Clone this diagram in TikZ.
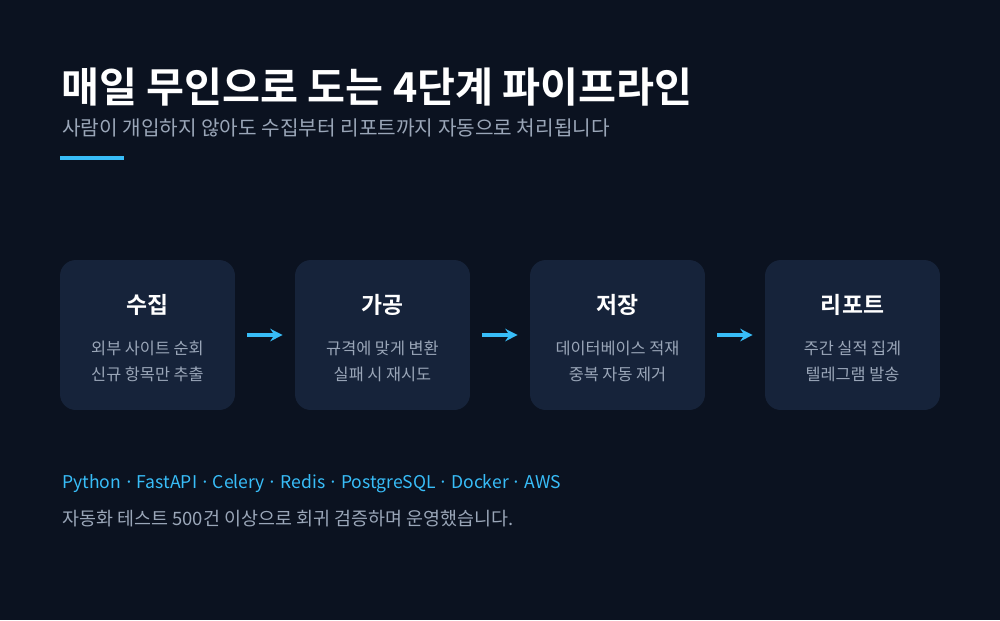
\documentclass[tikz,border=0pt]{standalone}
\usepackage{fontspec}
\setmainfont{Noto Sans CJK KR}[BoldFont={Noto Sans CJK KR Bold}]
\usetikzlibrary{positioning,arrows.meta}
\definecolor{bgdark}{HTML}{0B1220}
\definecolor{boxfill}{HTML}{16233A}
\definecolor{accent}{HTML}{38BDF8}
\definecolor{subgray}{HTML}{9AA6B8}
\tikzset{>={Stealth[length=7pt,width=7pt]}}
\begin{document}
\begin{tikzpicture}[x=0.02cm,y=-0.02cm,
  stage/.style={fill=boxfill,rounded corners=9pt,minimum width=3.5cm,minimum height=3cm,inner sep=0pt},
  head/.style={text=white,font=\bfseries\fontsize{13}{15}\selectfont},
  desc/.style={text=subgray,font=\fontsize{9.3}{14.5}\selectfont,align=center},
  flow/.style={->,accent,line width=1.8pt}]
\fill[bgdark] (0,0) rectangle (1000,620);
\node[anchor=west,text=white,font=\bfseries\fontsize{23.5}{27}\selectfont] (title) at (55,87) {매일 무인으로 도는 4단계 파이프라인};
\node[anchor=west,text=subgray,font=\fontsize{11.5}{13}\selectfont] (sub) at (56,128) {사람이 개입하지 않아도 수집부터 리포트까지 자동으로 처리됩니다};
\fill[accent] (60,156) rectangle (124,160);
% stages
\node[stage] (s1) at (147.5,335) {};
\node[stage] (s2) at (382.5,335) {};
\node[stage] (s3) at (617.5,335) {};
\node[stage] (s4) at (852.5,335) {};
\foreach \n/\h/\d in {s1/수집/{외부 사이트 순회\\신규 항목만 추출},
                      s2/가공/{규격에 맞게 변환\\실패 시 재시도},
                      s3/저장/{데이터베이스 적재\\중복 자동 제거},
                      s4/리포트/{주간 실적 집계\\텔레그램 발송}}{
  \node[head] at ([yshift=-0.9cm]\n.north) {\h};
  \node[desc] at ([yshift=0.98cm]\n.south) {\d};
}
\draw[flow] ([xshift=0.24cm]s1.east) -- ([xshift=-0.24cm]s2.west);
\draw[flow] ([xshift=0.24cm]s2.east) -- ([xshift=-0.24cm]s3.west);
\draw[flow] ([xshift=0.24cm]s3.east) -- ([xshift=-0.24cm]s4.west);
\node[anchor=west,text=accent,font=\fontsize{10}{12}\selectfont] (tech) at (56,484) {Python\,·\,FastAPI\,·\,Celery\,·\,Redis\,·\,PostgreSQL\,·\,Docker\,·\,AWS};
\node[anchor=west,text=subgray,font=\fontsize{10.5}{12}\selectfont] (note) at (56,519) {자동화 테스트 500건 이상으로 회귀 검증하며 운영했습니다.};
\end{tikzpicture}
\end{document}
